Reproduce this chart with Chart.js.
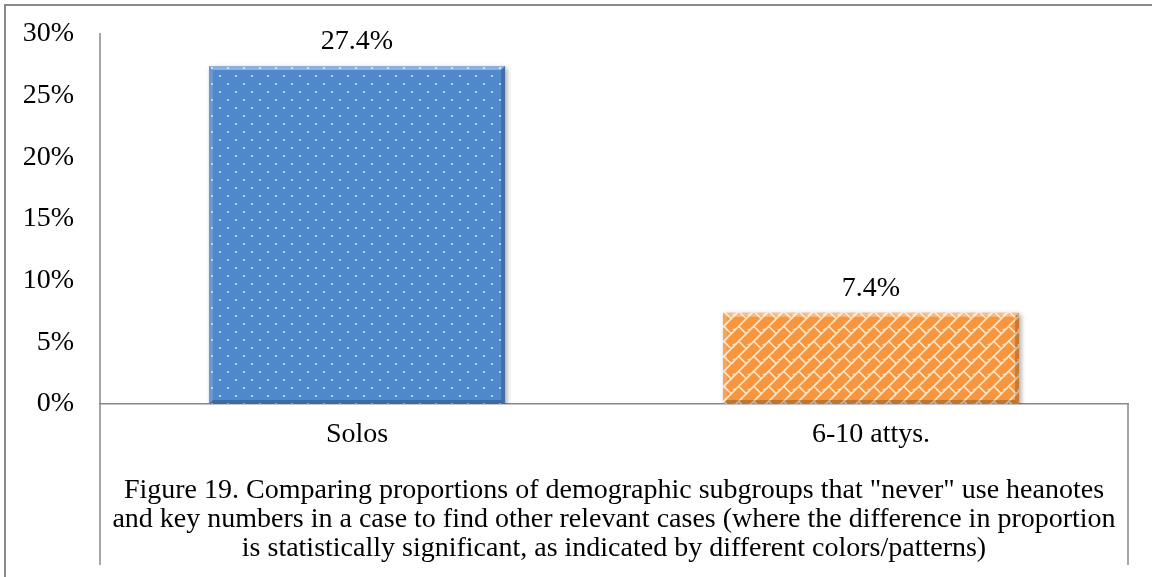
<!DOCTYPE html>
<html>
<head>
<meta charset="utf-8">
<script src="https://cdn.jsdelivr.net/npm/chart.js@4"></script>
<style>
  html, body { margin: 0; padding: 0; background: #fff; }
  #wrap { position: relative; width: 1152px; height: 577px; overflow: hidden; }
  #frame { position: absolute; left: 4px; top: 4px; width: 1160px; height: 600px;
           border-top: 2px solid #8a8a8a; border-left: 2px solid #8a8a8a; pointer-events: none; }
</style>
</head>
<body>
<div id="wrap">
  <canvas id="mycanvas" width="1152" height="577" style="width:1152px;height:577px"></canvas>
  <div id="frame"></div>
</div>
<script>
// data
const categories = ["Solos", "6-10 attys."];
const values = [27.4, 7.4];
const yTicks = [0, 5, 10, 15, 20, 25, 30];
const caption = [
  'Figure 19. Comparing proportions of demographic subgroups that "never" use heanotes',
  'and key numbers in a case to find other relevant cases (where the difference in proportion',
  'is statistically significant, as indicated by different colors/patterns)'
];

const AXIS_GREY = '#898989';
const FONT_SIZE = 28;
Chart.defaults.font.family = '"Liberation Serif", "Times New Roman", serif';
Chart.defaults.color = '#000';

// blue bar: small white dots
function dotPattern() {
  const c = document.createElement('canvas');
  c.width = 16; c.height = 16;
  const g = c.getContext('2d');
  g.fillStyle = '#5088cc';
  g.fillRect(0, 0, 16, 16);
  g.fillStyle = 'rgba(215,232,250,0.95)';
  [[4, 4], [12, 12]].forEach(p => {
    g.beginPath(); g.arc(p[0], p[1], 1.1, 0, Math.PI * 2); g.fill();
  });
  return g.createPattern(c, 'repeat');
}

// orange bar: diagonal bricks
function brickPattern() {
  const s = 15;
  const c = document.createElement('canvas');
  c.width = s; c.height = s;
  const g = c.getContext('2d');
  g.fillStyle = '#f7963f';
  g.fillRect(0, 0, s, s);
  g.strokeStyle = 'rgba(255,236,210,0.95)';
  g.lineWidth = 1.6;
  g.beginPath();
  for (let k = -1; k <= 1; k++) {
    // long "/" lines
    g.moveTo(k * s - 2, s + 2); g.lineTo(k * s + s + 2, -2);
    g.moveTo(k * s - 2, 2 * s + 2); g.lineTo(k * s + 2 * s + 2, -2 + s);
    // short "\" joints
    for (let m = -1; m <= 1; m++) {
      const ax = s / 4 + k * s, ay = 3 * s / 4 + m * s;
      g.moveTo(ax, ay); g.lineTo(ax + s / 2, ay + s / 2);
    }
  }
  g.stroke();
  return g.createPattern(c, 'repeat');
}

const barDecor = {
  id: 'barDecor',
  beforeDatasetsDraw(chart) {
    const ctx = chart.ctx;
    ctx.save();
    ctx.shadowColor = 'rgba(0,0,0,0.35)';
    ctx.shadowBlur = 5;
    ctx.shadowOffsetX = 2;
    ctx.shadowOffsetY = 2;
  },
  afterDatasetsDraw(chart) {
    const ctx = chart.ctx;
    ctx.restore();
    const meta = chart.getDatasetMeta(0);
    meta.data.forEach((bar, i) => {
      const l = bar.x - bar.width / 2, r = bar.x + bar.width / 2;
      const t = bar.y, b = bar.base, d = 4;
      const poly = (pts, col) => {
        ctx.beginPath();
        ctx.moveTo(pts[0][0], pts[0][1]);
        pts.slice(1).forEach(p => ctx.lineTo(p[0], p[1]));
        ctx.closePath();
        ctx.fillStyle = col;
        ctx.fill();
      };
      ctx.save();
      poly([[l, t], [r, t], [r - d, t + d], [l + d, t + d]], 'rgba(255,255,255,0.35)');
      poly([[l, t], [l + d, t + d], [l + d, b - d], [l, b]], 'rgba(255,255,255,0.15)');
      poly([[r, t], [r, b], [r - d, b - d], [r - d, t + d]], 'rgba(0,0,0,0.18)');
      poly([[l, b], [r, b], [r - d, b - d], [l + d, b - d]], 'rgba(0,0,0,0.22)');
      ctx.fillStyle = '#000';
      ctx.font = FONT_SIZE + 'px "Liberation Serif", serif';
      ctx.textAlign = 'center';
      ctx.textBaseline = 'middle';
      ctx.fillText(values[i].toFixed(1) + '%', bar.x, t - 24);
      ctx.restore();
    });
  }
};

// axis lines that run down through the category/caption box
const frameLines = {
  id: 'frameLines',
  afterDraw(chart) {
    const { ctx, chartArea: a, scales: { x } } = chart;
    ctx.save();
    ctx.strokeStyle = AXIS_GREY;
    ctx.lineWidth = 1.5;
    ctx.beginPath();
    ctx.moveTo(a.left, a.top - 1); ctx.lineTo(a.left, x.bottom - 12);
    ctx.moveTo(a.right, a.bottom); ctx.lineTo(a.right, x.bottom - 12);
    ctx.stroke();
    ctx.restore();
  }
};

const ctx = document.getElementById('mycanvas').getContext('2d');
new Chart(ctx, {
  type: 'bar',
  data: {
    labels: categories,
    datasets: [{
      data: values,
      backgroundColor: [dotPattern(), brickPattern()],
      borderWidth: 0,
      barPercentage: 0.576,
      categoryPercentage: 1
    }]
  },
  options: {
    responsive: false,
    animation: false,
    layout: { padding: { top: 34, right: 24, left: 0, bottom: 0 } },
    plugins: { legend: { display: false }, tooltip: { enabled: false } },
    scales: {
      x: {
        grid: { display: false, drawTicks: false },
        border: { display: true, color: AXIS_GREY, width: 1.5 },
        ticks: { font: { size: FONT_SIZE, lineHeight: 1.1 }, padding: 15, color: '#000' },
        title: {
          display: true,
          text: caption,
          color: '#000',
          font: { size: FONT_SIZE, lineHeight: 1.04 },
          padding: { top: 0, bottom: 14 }
        },
        afterFit: s => { s.height = 173; }
      },
      y: {
        min: 0, max: 30,
        grid: { display: false, drawTicks: false },
        border: { display: false },
        afterBuildTicks: s => { s.ticks = yTicks.map(v => ({ value: v })); },
        ticks: { font: { size: FONT_SIZE }, padding: 26, color: '#000', callback: v => v + '%' },
        afterFit: s => { s.width = 100; s.paddingTop = 0; s.paddingBottom = 0; }
      }
    }
  },
  plugins: [barDecor, frameLines]
});
</script>
</body>
</html>
